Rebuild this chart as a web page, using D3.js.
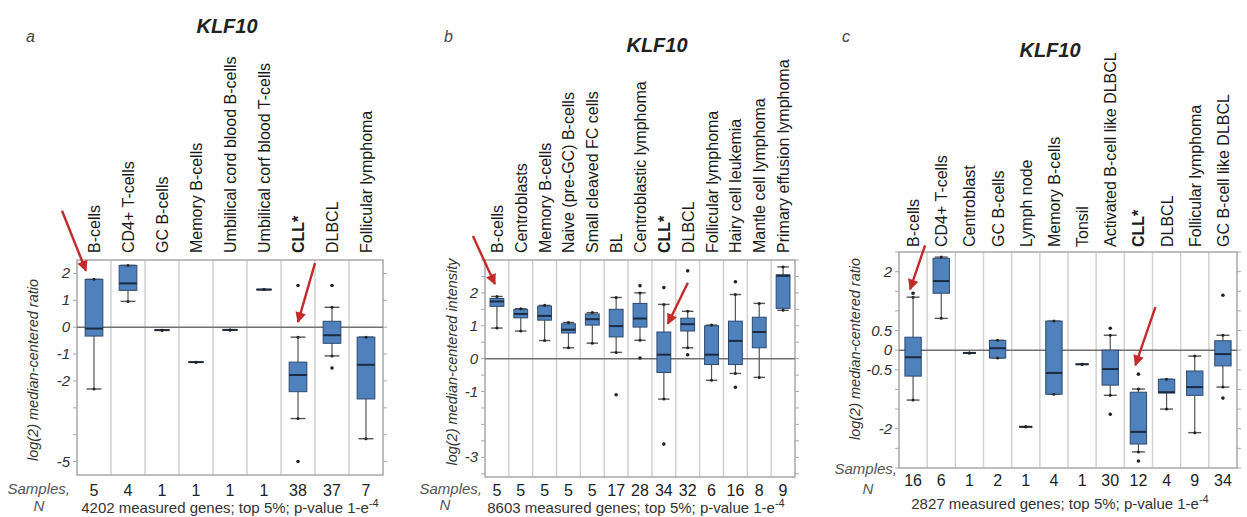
<!DOCTYPE html>
<html>
<head>
<meta charset="utf-8">
<script src="https://cdnjs.cloudflare.com/ajax/libs/d3/7.8.5/d3.min.js"></script>
<style>
  html, body { margin: 0; padding: 0; background: #fff; }
  svg { display: block; font-family: "Liberation Sans", Arial, sans-serif; }
</style>
</head>
<body>
<script>
// ---- panel a ----
const aCategories = ["B-cells", "CD4+ T-cells", "GC B-cells", "Memory B-cells",
  "Umbilical cord blood B-cells", "Umbilical corf blood T-cells", "CLL*", "DLBCL", "Follicular lymphoma"];
const aCounts = [5, 4, 1, 1, 1, 1, 38, 37, 7];
const aLow = [-2.3, 0.96, -0.11, -1.3, -0.1, 1.4, -3.4, -1.07, -4.15];
const aQ1 = [-0.33, 1.37, -0.11, -1.3, -0.1, 1.4, -2.4, -0.6, -2.67];
const aMed = [-0.05, 1.63, -0.11, -1.3, -0.1, 1.4, -1.78, -0.3, -1.4];
const aQ3 = [1.78, 2.3, -0.11, -1.3, -0.1, 1.4, -1.3, 0.22, -0.37];
const aHigh = [1.78, 2.3, -0.11, -1.3, -0.1, 1.4, -0.37, 0.74, -0.37];
const aOutliers = [[], [], [], [], [], [], [1.55, -5.0], [1.55, -1.52], []];
const aTicks = [2, 1, 0, -1, -2, -5];

// ---- panel b ----
const bCategories = ["B-cells", "Centroblasts", "Memory B-cells", "Naive (pre-GC) B-cells",
  "Small cleaved FC cells", "BL", "Centroblastic lymphoma", "CLL*", "DLBCL", "Follicular lymphoma",
  "Hairy cell leukemia", "Mantle cell lymphoma", "Primary effusion lymphoma"];
const bCounts = [5, 5, 5, 5, 5, 17, 28, 34, 32, 6, 16, 8, 9];
const bLow = [0.93, 0.84, 0.55, 0.33, 0.47, 0.19, 0.56, -1.23, 0.33, -0.66, -0.45, -0.57, 1.47];
const bQ1 = [1.59, 1.24, 1.17, 0.78, 1.02, 0.66, 0.96, -0.42, 0.84, -0.18, -0.18, 0.33, 1.53];
const bMed = [1.74, 1.36, 1.3, 0.88, 1.2, 0.99, 1.22, 0.12, 1.05, 0.12, 0.54, 0.81, 2.52];
const bQ3 = [1.83, 1.5, 1.6, 1.06, 1.36, 1.5, 1.68, 0.81, 1.23, 1.0, 1.14, 1.26, 2.55];
const bHigh = [1.89, 1.52, 1.62, 1.1, 1.4, 1.86, 2.0, 1.65, 1.44, 1.02, 1.95, 1.68, 2.79];
const bOutliers = [[], [], [], [], [], [-1.1], [2.22, 0.02], [2.16, -2.6], [2.67, 0.12], [], [2.34, -0.87], [], []];
const bTicks = [2, 1, 0, -1, -3];

// ---- panel c ----
const cCategories = ["B-cells", "CD4+ T-cells", "Centroblast", "GC B-cells", "Lymph node",
  "Memory B-cells", "Tonsil", "Activated B-cell like DLBCL", "CLL*", "DLBCL",
  "Follicular lymphoma", "GC B-cell like DLBCL"];
const cCounts = [16, 6, 1, 2, 1, 4, 1, 30, 12, 4, 9, 34];
const cLow = [-1.27, 0.81, -0.07, -0.2, -1.95, -1.12, -0.36, -1.15, -2.59, -1.5, -2.1, -0.94];
const cQ1 = [-0.66, 1.45, -0.07, -0.2, -1.95, -1.12, -0.36, -0.89, -2.39, -1.09, -1.15, -0.4];
const cMed = [-0.18, 1.76, -0.07, 0.05, -1.95, -0.58, -0.36, -0.48, -2.08, -1.07, -0.94, -0.1];
const cQ3 = [0.33, 2.34, -0.07, 0.25, -1.95, 0.74, -0.36, 0.0, -1.07, -0.74, -0.53, 0.24];
const cHigh = [1.35, 2.37, -0.07, 0.25, -1.95, 0.74, -0.36, 0.38, -0.99, -0.74, -0.15, 0.38];
const cOutliers = [[1.45], [], [], [], [], [], [], [0.56, -1.63], [-0.61, -2.82], [], [], [1.4, -1.22]];
const cTicks = [2, 0.5, 0, -0.5, -2];

// red arrows: category, value at the tip, tip x shift, tail offset
const aArrows = [["B-cells", 2.1, -8, -24, -60], ["CLL*", 0.19, 0, 17, -59]];
const bArrows = [["B-cells", 2.27, -2, -22, -48], ["CLL*", 1.06, 4, 20, -41]];
const cArrows = [["B-cells", 1.55, -3, 15, -44], ["CLL*", -0.38, -3, 20, -58]];

const width = 1247;
const height = 517;
const boxFill = "#4f81bd";
const boxStroke = "#2c4a6e";
const red = "#c42a2a";

const svg = d3.select("body").append("svg")
  .attr("width", width)
  .attr("height", height);

svg.append("defs").append("marker")
  .attr("id", "head")
  .attr("viewBox", "0 0 10 10")
  .attr("refX", 9).attr("refY", 5)
  .attr("markerWidth", 5).attr("markerHeight", 4.5)
  .attr("markerUnits", "strokeWidth")
  .attr("orient", "auto")
  .append("path")
  .attr("d", "M0,0 L10,5 L0,10 z")
  .attr("fill", red);

function drawPanel(p) {
  const g = svg.append("g");
  const x = d3.scaleBand().domain(p.categories).range([p.x0, p.x1]).padding(0);
  const y = d3.scaleLinear().domain(p.domain).range([p.y1, p.y0]);
  const bw = x.bandwidth();
  const rows = p.categories.map((c, i) => ({
    cat: c, n: p.counts[i], lo: p.low[i], q1: p.q1[i], med: p.med[i],
    q3: p.q3[i], hi: p.high[i], out: p.outliers[i]
  }));

  // panel letter + title
  g.append("text").attr("x", p.letterX).attr("y", p.letterY)
    .style("font-style", "italic").style("font-size", "16px").attr("fill", "#444")
    .text(p.letter);
  g.append("text").attr("x", p.titleX).attr("y", p.titleY)
    .attr("text-anchor", "middle")
    .style("font-style", "italic").style("font-weight", "bold").style("font-size", "20px")
    .attr("fill", "#222")
    .text("KLF10");

  // column separators
  g.selectAll(".sep").data(p.categories.slice(1)).enter().append("line")
    .attr("x1", d => x(d)).attr("x2", d => x(d))
    .attr("y1", p.y0).attr("y2", p.y1)
    .attr("stroke", "#d2d2d2").attr("stroke-width", 1.5);

  // ticks on both sides
  const ticks = d3.range(Math.ceil(p.domain[0] / p.step) * p.step, p.domain[1] + 1e-9, p.step);
  g.selectAll(".tl").data(ticks).enter().append("line")
    .attr("x1", p.x0 - 4).attr("x2", p.x0)
    .attr("y1", d => y(d)).attr("y2", d => y(d))
    .attr("stroke", "#aaa");
  g.selectAll(".tr").data(ticks).enter().append("line")
    .attr("x1", p.x1).attr("x2", p.x1 + 4)
    .attr("y1", d => y(d)).attr("y2", d => y(d))
    .attr("stroke", "#aaa");

  // frame
  g.append("rect").attr("x", p.x0).attr("y", p.y0)
    .attr("width", p.x1 - p.x0).attr("height", p.y1 - p.y0)
    .attr("fill", "none").attr("stroke", "#a8a8a8").attr("stroke-width", 1.5);

  // zero line
  g.append("line").attr("x1", p.x0).attr("x2", p.x1)
    .attr("y1", y(0)).attr("y2", y(0))
    .attr("stroke", "#707070").attr("stroke-width", 1.5);

  // tick labels
  g.selectAll(".yl").data(p.ticks).enter().append("text")
    .attr("x", p.x0 - 7).attr("y", d => y(d) + 5)
    .attr("text-anchor", "end")
    .style("font-style", "italic").style("font-size", "15px").attr("fill", "#333")
    .text(d => d);

  // y title
  g.append("text")
    .attr("transform", `translate(${p.ytX},${p.ytY}) rotate(-90)`)
    .attr("text-anchor", "middle")
    .style("font-style", "italic").style("font-size", "14.5px").attr("fill", "#333")
    .text(p.yTitle);

  // category labels
  g.selectAll(".cl").data(p.categories).enter().append("text")
    .attr("transform", d => `translate(${x(d) + bw / 2 + 6},${p.labelY}) rotate(-90)`)
    .style("font-size", "16px")
    .style("font-weight", d => d === "CLL*" ? "bold" : "normal")
    .attr("fill", "#1a1a1a")
    .text(d => d);

  // boxes
  const cell = g.selectAll(".cell").data(rows).enter().append("g")
    .attr("transform", d => `translate(${x(d.cat) + bw / 2},0)`);
  const half = bw * p.boxFrac / 2;
  const cap = bw * p.capFrac / 2;

  cell.append("line")
    .attr("y1", d => y(d.hi)).attr("y2", d => y(d.lo))
    .attr("stroke", "#555").attr("stroke-width", 1.2);
  cell.selectAll(".cap").data(d => [d.lo, d.hi]).enter().append("line")
    .attr("x1", -cap).attr("x2", cap)
    .attr("y1", d => y(d)).attr("y2", d => y(d))
    .attr("stroke", "#555").attr("stroke-width", 1.4);
  cell.filter(d => d.q3 > d.q1).append("rect")
    .attr("x", -half).attr("width", 2 * half)
    .attr("y", d => y(d.q3)).attr("height", d => y(d.q1) - y(d.q3))
    .attr("fill", boxFill).attr("stroke", boxStroke).attr("stroke-width", 1);
  cell.append("line")
    .attr("x1", d => d.q3 > d.q1 ? -half : -cap).attr("x2", d => d.q3 > d.q1 ? half : cap)
    .attr("y1", d => y(d.med)).attr("y2", d => y(d.med))
    .attr("stroke", "#1c2a40").attr("stroke-width", 2);
  cell.selectAll(".end").data(d => [d.lo, d.hi]).enter().append("circle")
    .attr("r", 1.5).attr("cy", d => y(d)).attr("fill", "#222");
  cell.selectAll(".out").data(d => d.out).enter().append("circle")
    .attr("r", 1.8).attr("cy", d => y(d)).attr("fill", "#222");

  // sample counts
  g.selectAll(".cnt").data(rows).enter().append("text")
    .attr("x", d => x(d.cat) + bw / 2).attr("y", p.countY)
    .attr("text-anchor", "middle")
    .style("font-size", "16px").attr("fill", "#222")
    .text(d => d.n);
  g.append("text").attr("x", p.sampX).attr("y", p.sampY)
    .attr("text-anchor", "end")
    .style("font-style", "italic").style("font-size", "15px").attr("fill", "#555")
    .text("Samples,");
  g.append("text").attr("x", p.nX).attr("y", p.nY)
    .attr("text-anchor", "middle")
    .style("font-style", "italic").style("font-size", "15px").attr("fill", "#555")
    .text("N");

  const sub = g.append("text").attr("x", p.subX).attr("y", p.subY)
    .attr("text-anchor", "middle")
    .style("font-size", "15px").attr("fill", "#333");
  sub.append("tspan").text(p.subtitle);
  sub.append("tspan").attr("dy", -6).style("font-size", "11px").text("-4");

  // red arrows
  p.arrows.forEach(a => {
    const tx = x(a[0]) + bw / 2 + a[2];
    const ty = y(a[1]);
    g.append("line")
      .attr("x1", tx + a[3]).attr("y1", ty + a[4])
      .attr("x2", tx).attr("y2", ty)
      .attr("stroke", red).attr("stroke-width", 2.4)
      .attr("marker-end", "url(#head)");
  });
}

drawPanel({
  letter: "a", letterX: 26, letterY: 42, titleX: 227, titleY: 33,
  categories: aCategories, counts: aCounts, low: aLow, q1: aQ1, med: aMed, q3: aQ3,
  high: aHigh, outliers: aOutliers, ticks: aTicks, arrows: aArrows,
  x0: 77, x1: 383, y0: 260, y1: 475, domain: [-5.5, 2.5], step: 1,
  boxFrac: 0.52, capFrac: 0.44, labelY: 253,
  yTitle: "log(2) median-centered ratio", ytX: 38, ytY: 370,
  countY: 496, sampX: 70, sampY: 494, nX: 39, nY: 511,
  subtitle: "4202 measured genes; top 5%; p-value 1-e", subX: 230, subY: 513
});

drawPanel({
  letter: "b", letterX: 444, letterY: 42, titleX: 657, titleY: 52,
  categories: bCategories, counts: bCounts, low: bLow, q1: bQ1, med: bMed, q3: bQ3,
  high: bHigh, outliers: bOutliers, ticks: bTicks, arrows: bArrows,
  x0: 485, x1: 795, y0: 260, y1: 477, domain: [-3.6, 3.0], step: 0.5,
  boxFrac: 0.58, capFrac: 0.48, labelY: 253,
  yTitle: "log(2) median-centered intensity", ytX: 457, ytY: 362,
  countY: 496, sampX: 482, sampY: 494, nX: 445, nY: 510,
  subtitle: "8603 measured genes; top 5%; p-value 1-e", subX: 636, subY: 513
});

drawPanel({
  letter: "c", letterX: 842, letterY: 42, titleX: 1050, titleY: 57,
  categories: cCategories, counts: cCounts, low: cLow, q1: cQ1, med: cMed, q3: cQ3,
  high: cHigh, outliers: cOutliers, ticks: cTicks, arrows: cArrows,
  x0: 899, x1: 1237, y0: 252, y1: 468, domain: [-3.0, 2.5], step: 0.5,
  boxFrac: 0.58, capFrac: 0.46, labelY: 247,
  yTitle: "log(2) median-centered ratio", ytX: 860, ytY: 349,
  countY: 486, sampX: 897, sampY: 474, nX: 868, nY: 494,
  subtitle: "2827 measured genes; top 5%; p-value 1-e", subX: 1060, subY: 509
});
</script>
</body>
</html>
